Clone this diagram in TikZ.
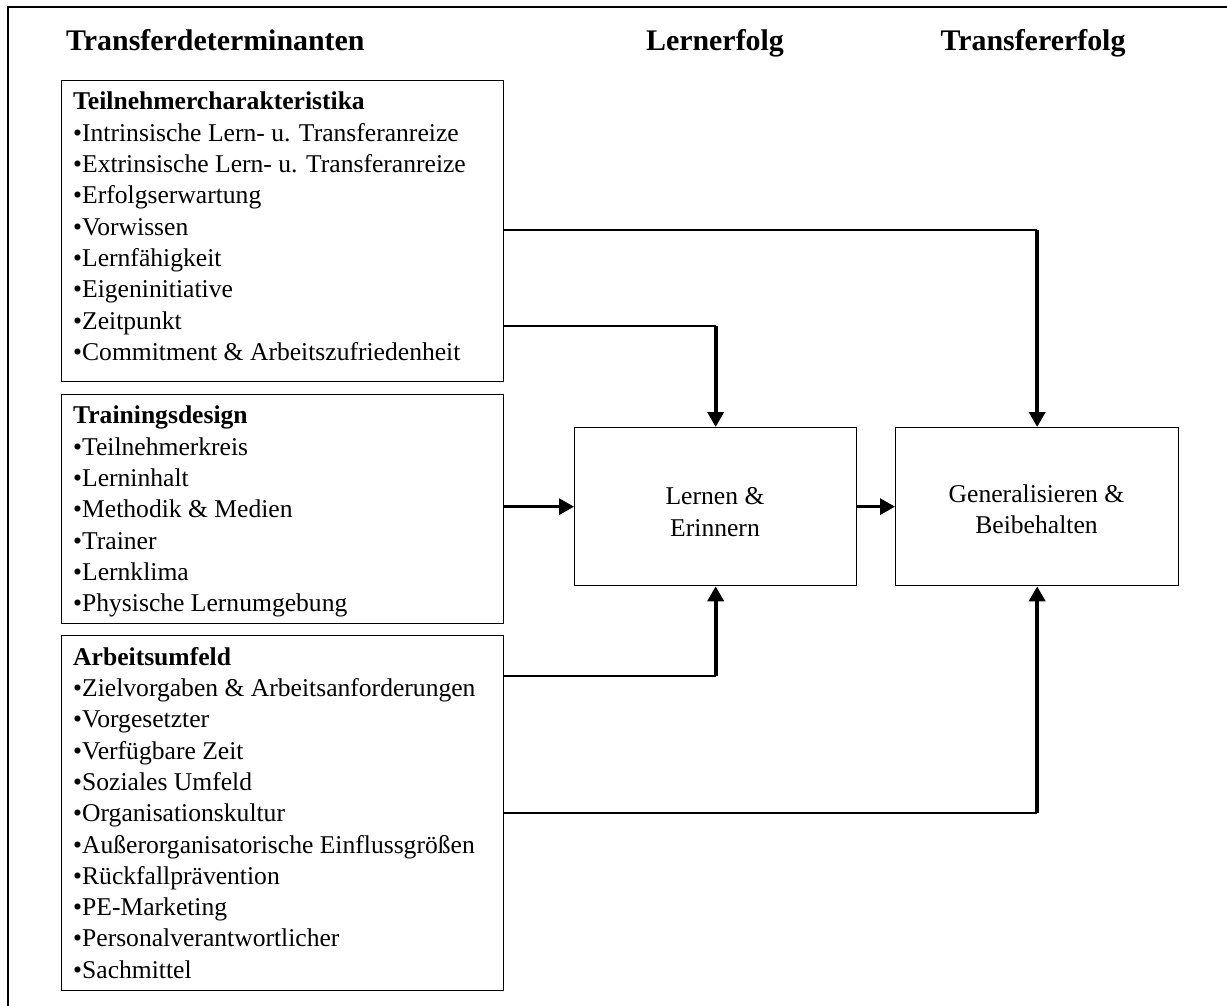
\documentclass[tikz,border=0pt]{standalone}
\usepackage{fontspec}
\setmainfont{Liberation Serif}
\usetikzlibrary{arrows.meta}
\begin{document}
\begin{tikzpicture}[x=1pt,y=-1pt,
  frame/.style={draw, line width=1.3pt, inner sep=0pt, anchor=north west},
  boxtext/.style={anchor=north west, inner sep=0pt, align=left, font=\fontsize{25.6}{31.3}\selectfont},
  centertext/.style={inner sep=0pt, align=center, font=\fontsize{25.6}{31.5}\selectfont},
  head/.style={anchor=base, inner sep=0pt, font=\fontsize{29.9}{34}\selectfont\bfseries},
  thinline/.style={line width=1.3pt},
  midline/.style={line width=2.2pt},
  arr/.style={line width=4pt, -{Triangle[length=15pt,width=16pt]}},
  harr/.style={line width=3pt, -{Triangle[length=15pt,width=16pt]}}
]
\useasboundingbox (0,0) rectangle (1227,1006);
% outer frame (top and left edges only)
\draw[line width=1.3pt] (8,1006) -- (8,7) -- (1227,7);

% column headings
\node[head, anchor=base west] (h1) at (66,51) {Transferdeterminanten};
\node[head] (h2) at (715,51) {Lernerfolg};
\node[head] (h3) at (1033,51) {Transfererfolg};

% left boxes
\node[frame, minimum width=442pt, minimum height=301pt] (b1) at (61,80) {};
\node[frame, minimum width=442pt, minimum height=229pt] (b2) at (61,394) {};
\node[frame, minimum width=442pt, minimum height=355pt] (b3) at (61,635) {};

\node[boxtext] (t1) at (73,92) {\textbf{Teilnehmercharakteristika}\\
•Intrinsische Lern- u. Transferanreize\\
•Extrinsische Lern- u. Transferanreize\\
•Erfolgserwartung\\
•Vorwissen\\
•Lernfähigkeit\\
•Eigeninitiative\\
•Zeitpunkt\\
•Commitment \& Arbeitszufriedenheit};

\node[boxtext] (t2) at (73,406) {\textbf{Trainingsdesign}\\
•Teilnehmerkreis\\
•Lerninhalt\\
•Methodik \& Medien\\
•Trainer\\
•Lernklima\\
•Physische Lernumgebung};

\node[boxtext] (t3) at (73,647) {\textbf{Arbeitsumfeld}\\
•Zielvorgaben \& Arbeitsanforderungen\\
•Vorgesetzter\\
•Verfügbare Zeit\\
•Soziales Umfeld\\
•Organisationskultur\\
•Außerorganisatorische Einflussgrößen\\
•Rückfallprävention\\
•PE-Marketing\\
•Personalverantwortlicher\\
•Sachmittel};

% right boxes
\node[frame, minimum width=282pt, minimum height=158pt] (lern) at (574,427) {};
\node[frame, minimum width=283pt, minimum height=158pt] (gen) at (895,427) {};
\node[centertext] (lt) at (715,512) {Lernen \&\\Erinnern};
\node[centertext] (gt) at (1036.5,509) {Generalisieren \&\\Beibehalten};

% connectors
\coordinate (p1) at (b1.east |- 0,230);
\coordinate (p2) at (b1.east |- 0,326);
\coordinate (p3) at (b3.east |- 0,676);
\coordinate (p4) at (b3.east |- 0,813);

\draw[midline] (p1) -- (p1 -| gen.north);
\draw[arr] (p1 -| gen.north) -- (gen.north);

\draw[thinline] (p2) -- (p2 -| lern.north);
\draw[arr] (p2 -| lern.north) -- (lern.north);

\draw[harr] (b2.east |- lern.west) -- (lern.west);
\draw[harr] (lern.east) -- (gen.west);

\draw[thinline] (p3) -- (p3 -| lern.south);
\draw[arr] (p3 -| lern.south) -- (lern.south);

\draw[midline] (p4) -- (p4 -| gen.south);
\draw[arr] (p4 -| gen.south) -- (gen.south);
\end{tikzpicture}
\end{document}
